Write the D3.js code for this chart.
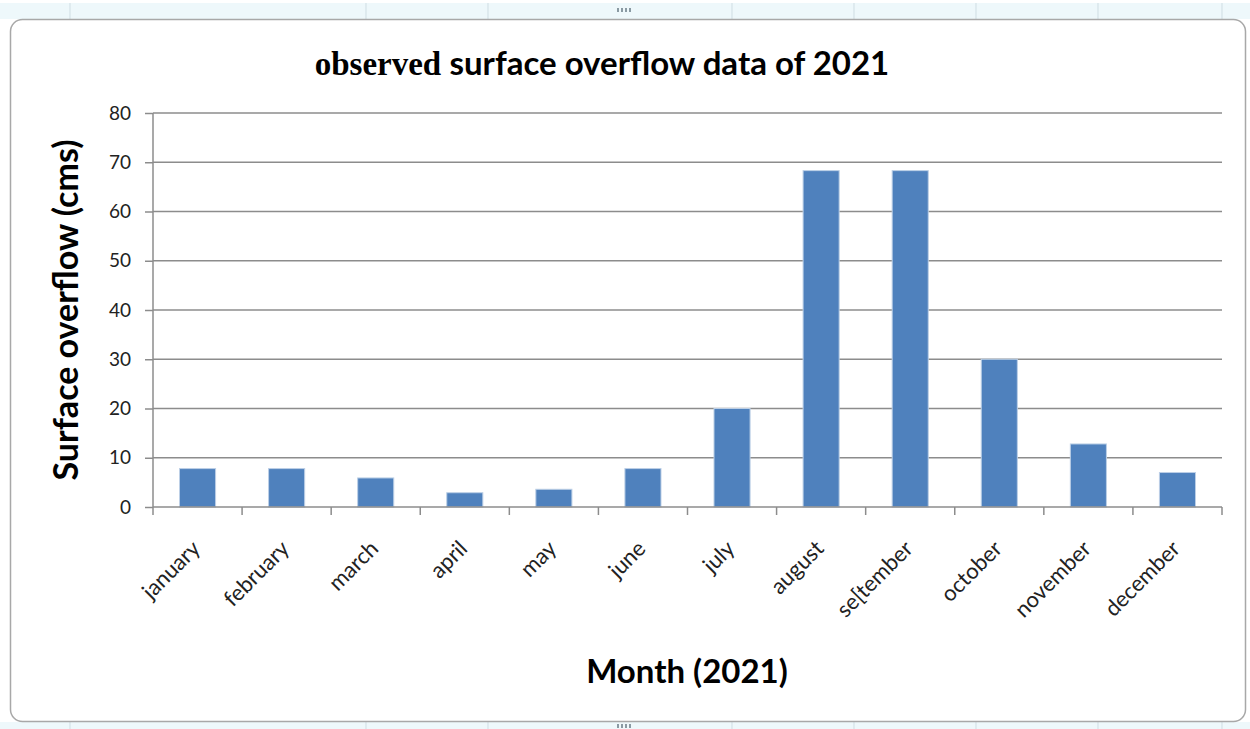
<!DOCTYPE html>
<html>
<head>
<meta charset="utf-8">
<script src="https://cdn.jsdelivr.net/npm/d3@7"></script>
<style>
  html, body { margin: 0; padding: 0; background: #fff; }
  svg { display: block; }
</style>
</head>
<body>
<svg id="chart" width="1250" height="729"></svg>
<script>
// Monthly observed surface overflow for 2021 (cms)
const months = ["january", "february", "march", "april", "may", "june",
                "july", "august", "se[tember", "october", "november", "december"];
const overflow = [7.8, 7.8, 5.9, 2.9, 3.6, 7.8, 20, 68.3, 68.3, 30, 12.8, 7];
const yTicks = [0, 10, 20, 30, 40, 50, 60, 70, 80];
const rulerMarks = [70, 366, 488, 732, 854, 976, 1098, 1222];

const svg = d3.select("#chart");
const W = 1250, H = 729;
const sansFont = "Lato, 'Open Sans', sans-serif";

// Worksheet ruler strips above and below the chart object
const strips = [{ y: 3, h: 16 }, { y: 722, h: 7 }];
strips.forEach(s => {
  svg.append("rect").attr("x", 0).attr("y", s.y).attr("width", W).attr("height", s.h)
    .attr("fill", "#eef8fb");
  svg.selectAll(null).data(rulerMarks).enter().append("line")
    .attr("x1", d => d).attr("x2", d => d)
    .attr("y1", s.y).attr("y2", s.y + s.h)
    .attr("stroke", "#cfdde3").attr("stroke-width", 1);
  // drag handle dots
  svg.selectAll(null).data([0, 1, 2, 3]).enter().append("rect")
    .attr("x", d => 617 + d * 4).attr("y", s.y + (s.h > 10 ? 5 : 2))
    .attr("width", 2).attr("height", 4).attr("fill", "#8a9aa3");
});

// Chart object frame
svg.append("rect")
  .attr("x", 10.5).attr("y", 19.5).attr("width", 1235).attr("height", 702)
  .attr("rx", 12).attr("ry", 12)
  .attr("fill", "#fff").attr("stroke", "#a8a8a8").attr("stroke-width", 1.5);

// Plot area
const plot = { left: 153, right: 1222, top: 113, bottom: 507 };

const x = d3.scaleBand()
  .domain(months)
  .range([plot.left, plot.right])
  .paddingInner(0.595)
  .paddingOuter(0.2975);

const y = d3.scaleLinear()
  .domain([0, 80])
  .range([plot.bottom, plot.top]);

// Horizontal gridlines
svg.append("g")
  .selectAll("line")
  .data(yTicks.filter(d => d > 0))
  .enter().append("line")
  .attr("x1", plot.left).attr("x2", plot.right)
  .attr("y1", d => y(d)).attr("y2", d => y(d))
  .attr("stroke", "#8c8c8c").attr("stroke-width", 1.5);

// Bars
svg.append("g")
  .selectAll("rect")
  .data(months)
  .enter().append("rect")
  .attr("x", d => x(d))
  .attr("y", (d, i) => y(overflow[i]))
  .attr("width", x.bandwidth())
  .attr("height", (d, i) => y(0) - y(overflow[i]))
  .attr("fill", "#4f81bd")
  .attr("stroke", "#bccfe6").attr("stroke-width", 1);

// Y axis
const yAxis = d3.axisLeft(y).tickValues(yTicks).tickSize(8).tickPadding(14);
const gy = svg.append("g").attr("transform", `translate(${plot.left},0)`).call(yAxis);
gy.select(".domain").attr("stroke", "#8c8c8c").attr("stroke-width", 1.5)
  .attr("d", `M0,${plot.top}V${plot.bottom}`);
gy.selectAll(".tick line").attr("stroke", "#8c8c8c").attr("stroke-width", 1.5);
gy.selectAll(".tick text")
  .attr("font-family", sansFont).attr("font-size", 19).attr("fill", "#222");

// X axis: ticks sit on category boundaries
const boundaries = d3.range(months.length + 1).map(i => plot.left + i * x.step());
const gx = svg.append("g");
gx.append("line")
  .attr("x1", plot.left).attr("x2", plot.right)
  .attr("y1", plot.bottom).attr("y2", plot.bottom)
  .attr("stroke", "#8c8c8c").attr("stroke-width", 1.5);
gx.selectAll("line.tk")
  .data(boundaries).enter().append("line").attr("class", "tk")
  .attr("x1", d => d).attr("x2", d => d)
  .attr("y1", plot.bottom).attr("y2", plot.bottom + 8)
  .attr("stroke", "#8c8c8c").attr("stroke-width", 1.5);
gx.selectAll("text")
  .data(months).enter().append("text")
  .attr("transform", d => `translate(${x(d) + x.bandwidth() / 2 + 4},${plot.bottom + 43}) rotate(-45)`)
  .attr("text-anchor", "end")
  .attr("font-family", sansFont).attr("font-size", 22).attr("fill", "#222")
  .text(d => d);

// Title
const title = svg.append("text")
  .attr("x", 602).attr("y", 75)
  .attr("text-anchor", "middle")
  .attr("font-size", 33).attr("font-weight", "bold").attr("fill", "#000");
title.append("tspan").attr("font-family", "'Liberation Serif', serif").text("observed ");
title.append("tspan").attr("font-family", sansFont).text("surface overflow data of 2021");

// Axis titles
svg.append("text")
  .attr("transform", `translate(78,${(plot.top + plot.bottom) / 2}) rotate(-90)`)
  .attr("text-anchor", "middle")
  .attr("font-family", sansFont).attr("font-size", 34).attr("font-weight", "bold").attr("fill", "#000")
  .text("Surface overflow (cms)");

svg.append("text")
  .attr("x", 687).attr("y", 683)
  .attr("text-anchor", "middle")
  .attr("font-family", sansFont).attr("font-size", 33).attr("font-weight", "bold").attr("fill", "#000")
  .text("Month (2021)");
</script>
</body>
</html>
